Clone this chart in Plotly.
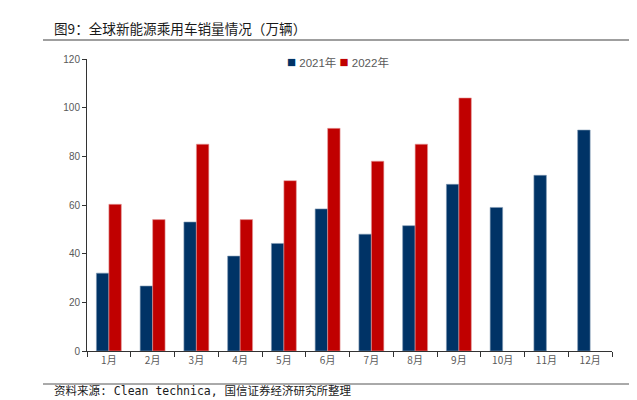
import plotly.graph_objects as go

months = ["1月", "2月", "3月", "4月", "5月", "6月", "7月", "8月", "9月", "10月", "11月", "12月"]
sales_2021 = [32, 26.7, 53, 39, 44.2, 58.4, 48, 51.5, 68.5, 59, 72.2, 90.8]
sales_2022 = [60.3, 54, 85, 54, 70, 91.5, 78, 85, 104, None, None, None]
y_ticks = [0, 20, 40, 60, 80, 100, 120]
series_names = ["2021年", "2022年"]
series_colors = ["#003366", "#C00000"]

W, H = 637, 400
L, R, T, B = 79, 33, 51, 57
pw, ph = W - L - R, H - T - B

def px(x):
    return (x - L) / pw

def py(y):
    return (H - B - y) / ph

fig = go.Figure()
fig.add_trace(go.Bar(name=series_names[0], x=months, y=sales_2021, showlegend=False,
                     marker=dict(color=series_colors[0], line=dict(color="#7f99b3", width=0.6))))
fig.add_trace(go.Bar(name=series_names[1], x=months, y=sales_2022, showlegend=False,
                     marker=dict(color=series_colors[1], line=dict(color="#e6a0a0", width=0.6))))

legend_text = (f"<span style='color:{series_colors[0]};font-size:15px'>■</span> {series_names[0]} "
               f"<span style='color:{series_colors[1]};font-size:15px'>■</span> {series_names[1]}")

fig.update_layout(
    width=W, height=H,
    margin=dict(l=L, r=R, t=T, b=B),
    paper_bgcolor="white", plot_bgcolor="white",
    barmode="group", bargap=0.43, bargroupgap=0,
    font=dict(family="Liberation Sans, Arial, Noto Sans CJK SC", size=10, color="#595959"),
    xaxis=dict(type="category", range=[-0.5, 11.5], showline=True, linecolor="#333333", linewidth=1,
               ticks="outside", tickson="boundaries", ticklen=5, tickcolor="#333333",
               showgrid=False, tickfont=dict(size=10, color="#595959", family="Noto Sans CJK SC")),
    yaxis=dict(range=[0, 120], tickvals=y_ticks, showline=True, linecolor="#333333", linewidth=1,
               ticks="outside", ticklen=4, tickcolor="#333333", showgrid=False, zeroline=False,
               tickfont=dict(size=10, color="#595959")),
    shapes=[
        dict(type="line", xref="paper", yref="paper", x0=px(35), x1=px(637), y0=py(32), y1=py(32),
             line=dict(color="#7f7f7f", width=1.5)),
        dict(type="line", xref="paper", yref="paper", x0=px(35), x1=px(637), y0=py(376), y1=py(376),
             line=dict(color="#555555", width=1)),
    ],
    annotations=[
        dict(text="图9：全球新能源乘用车销量情况（万辆）", xref="paper", yref="paper",
             x=px(44), y=py(20), xanchor="left", yanchor="middle", showarrow=False,
             font=dict(size=13.6, color="#1a1a1a", family="Noto Sans CJK SC")),
        dict(text="资料来源: Clean technica, 国信证券经济研究所整理", xref="paper", yref="paper",
             x=px(44), y=py(383), xanchor="left", yanchor="middle", showarrow=False,
             font=dict(size=11.5, color="#1a1a1a", family="DejaVu Sans Mono, Noto Sans CJK SC")),
        dict(text=legend_text, xref="paper", yref="paper",
             x=px(277), y=py(53), xanchor="left", yanchor="middle", showarrow=False,
             font=dict(size=11.5, color="#595959", family="Liberation Sans, Noto Sans CJK SC")),
    ],
)

fig.write_html("out.html")
